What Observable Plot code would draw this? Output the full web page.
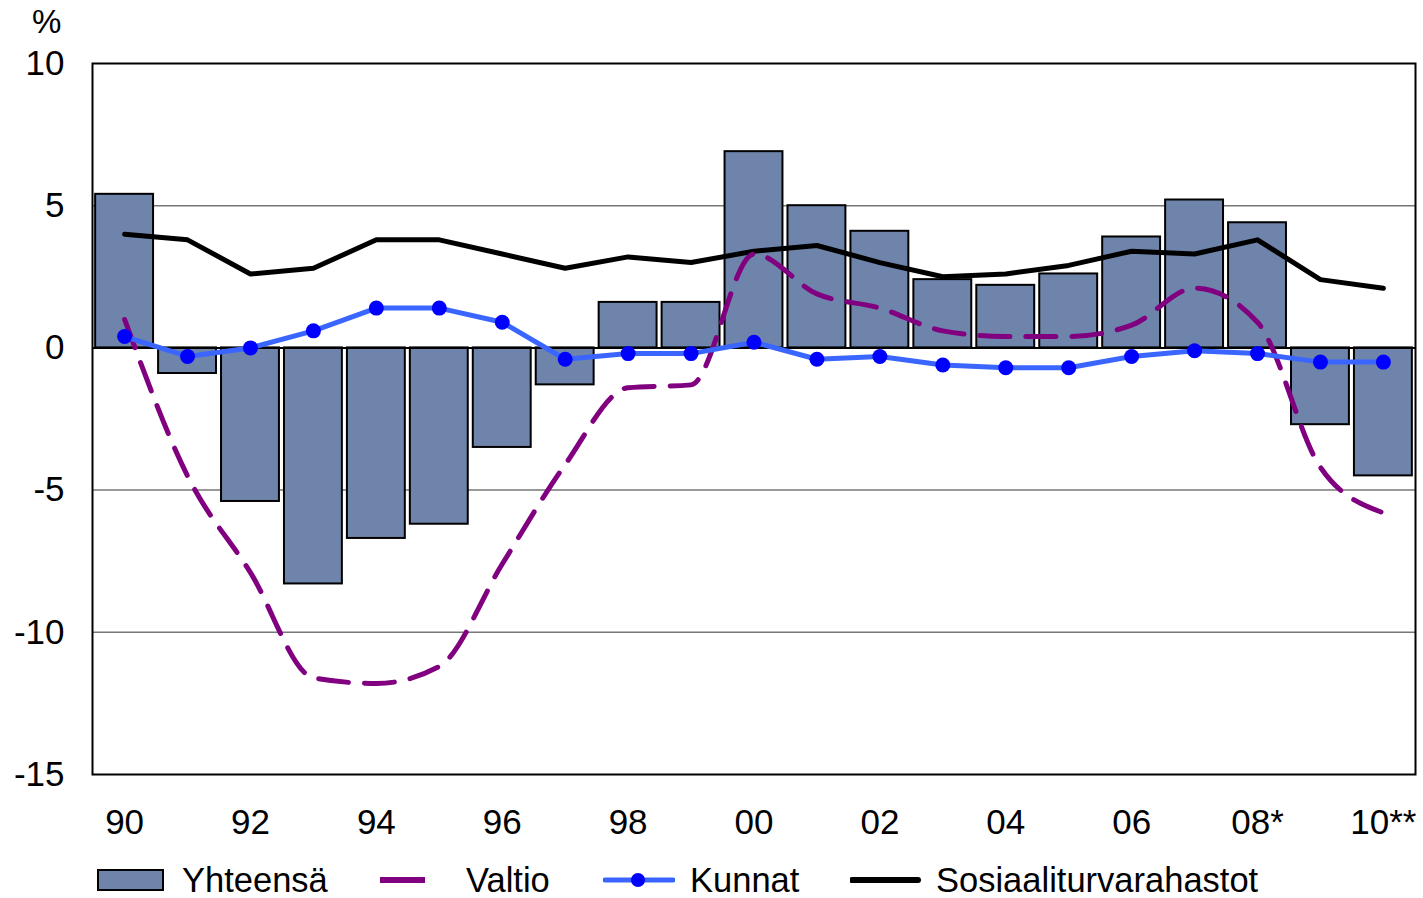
<!DOCTYPE html>
<html>
<head>
<meta charset="utf-8">
<script src="https://cdn.jsdelivr.net/npm/d3@7"></script>
<script src="https://cdn.jsdelivr.net/npm/@observablehq/plot@0.6"></script>
<style>
  body { margin: 0; background: #fff; font-family: "Liberation Sans", Arial, sans-serif; }
  #wrap { position: relative; width: 1423px; height: 898px; }
  #pct { position: absolute; left: 32px; top: 3px; font-size: 33px; }
  #legend { position: absolute; top: 862px; left: 0; width: 1423px; height: 36px; font-size: 34.5px; }
  .item { position: absolute; top: 0; display: flex; align-items: center; height: 36px; }
  .item svg { display: block; }
</style>
</head>
<body>
<div id="wrap">
  <div id="chart"></div>
  <div id="pct">%</div>
  <div id="legend"></div>
</div>
<script>
const years = d3.range(1990, 2011);
const tickLabels = ["90","91","92","93","94","95","96","97","98","99","00","01","02","03","04","05","06","07","08*","09","10**"];
const yhteensa = [5.4, -0.9, -5.4, -8.3, -6.7, -6.2, -3.5, -1.3, 1.6, 1.6, 6.9, 5.0, 4.1, 2.4, 2.2, 2.6, 3.9, 5.2, 4.4, -2.7, -4.5];
const valtio = [1.0, -4.5, -7.9, -11.6, -11.8, -11.2, -7.6, -4.1, -1.4, -1.3, 3.3, 1.9, 1.4, 0.6, 0.4, 0.4, 0.8, 2.1, 0.9, -4.2, -5.8];
const kunnat = [0.4, -0.3, 0.0, 0.6, 1.4, 1.4, 0.9, -0.4, -0.2, -0.2, 0.2, -0.4, -0.3, -0.6, -0.7, -0.7, -0.3, -0.1, -0.2, -0.5, -0.5];
const sosiaali = [4.0, 3.8, 2.6, 2.8, 3.8, 3.8, 3.3, 2.8, 3.2, 3.0, 3.4, 3.6, 3.0, 2.5, 2.6, 2.9, 3.4, 3.3, 3.8, 2.4, 2.1];
const shownTicks = [1990, 1992, 1994, 1996, 1998, 2000, 2002, 2004, 2006, 2008, 2010];
const yTicks = [-15, -10, -5, 0, 5, 10];
const gridValues = [5, -5, -10];

const colBar = "#6f84ab", colValtio = "#800080", colKunnatLine = "#3a66ff", colKunnatDot = "#0000ff", colSos = "#000000";

const rows = years.map((y, i) => ({year: y, label: tickLabels[i], yht: yhteensa[i], val: valtio[i], kun: kunnat[i], sos: sosiaali[i]}));

const chart = Plot.plot({
  width: 1423,
  height: 850,
  marginLeft: 92,
  marginRight: 8,
  marginTop: 63,
  marginBottom: 76,
  style: {fontFamily: "'Liberation Sans', Arial, sans-serif", fontSize: "35px", color: "#000", background: "#fff"},
  x: {type: "band", domain: years, round: false, paddingInner: 0.08, paddingOuter: 0.05, ticks: shownTicks, tickFormat: (d) => tickLabels[years.indexOf(d)], tickSize: 0, tickPadding: 35, label: null},
  y: {domain: [-15, 10], ticks: yTicks, tickFormat: (d) => String(d), tickSize: 0, tickPadding: 28, label: null},
  marks: [
    Plot.ruleY(gridValues, {stroke: "#777", strokeWidth: 1.5}),
    Plot.barY(rows, {x: "year", y: "yht", fill: colBar, stroke: "#000", strokeWidth: 2}),
    Plot.ruleY([0], {stroke: "#000", strokeWidth: 2}),
    Plot.line(rows, {x: "year", y: "sos", stroke: colSos, strokeWidth: 5}),
    Plot.line(rows, {x: "year", y: "val", stroke: colValtio, strokeWidth: 5, strokeDasharray: "30,16", curve: "monotone-x"}),
    Plot.line(rows, {x: "year", y: "kun", stroke: colKunnatLine, strokeWidth: 5}),
    Plot.dot(rows, {x: "year", y: "kun", fill: colKunnatDot, r: 7.5}),
    Plot.frame({stroke: "#000", strokeWidth: 2})
  ]
});
document.getElementById("chart").appendChild(chart);

const legendItems = [
  {name: "Yhteensä", left: 97, kind: "bar", textLeft: 182},
  {name: "Valtio", left: 380, kind: "dash", textLeft: 466},
  {name: "Kunnat", left: 603, kind: "dot", textLeft: 690},
  {name: "Sosiaaliturvarahastot", left: 850, kind: "line", textLeft: 936}
];
const leg = document.getElementById("legend");
for (const it of legendItems) {
  const sw = document.createElement("div");
  sw.className = "item";
  sw.style.left = it.left + "px";
  let svg = "";
  if (it.kind === "bar") svg = `<svg width="68" height="24"><rect x="1" y="2" width="65" height="20" fill="${colBar}" stroke="#000" stroke-width="2"/></svg>`;
  if (it.kind === "dash") svg = `<svg width="48" height="24"><line x1="0" y1="12" x2="45" y2="12" stroke="${colValtio}" stroke-width="6"/></svg>`;
  if (it.kind === "dot") svg = `<svg width="72" height="24"><line x1="2" y1="12" x2="70" y2="12" stroke="${colKunnatLine}" stroke-width="5" stroke-linecap="round"/><circle cx="35" cy="12" r="7" fill="${colKunnatDot}"/></svg>`;
  if (it.kind === "line") svg = `<svg width="72" height="24"><line x1="2" y1="12" x2="68" y2="12" stroke="${colSos}" stroke-width="6" stroke-linecap="round"/></svg>`;
  sw.innerHTML = svg;
  leg.appendChild(sw);
  const tx = document.createElement("div");
  tx.className = "item";
  tx.style.left = it.textLeft + "px";
  tx.textContent = it.name;
  leg.appendChild(tx);
}
</script>
</body>
</html>
